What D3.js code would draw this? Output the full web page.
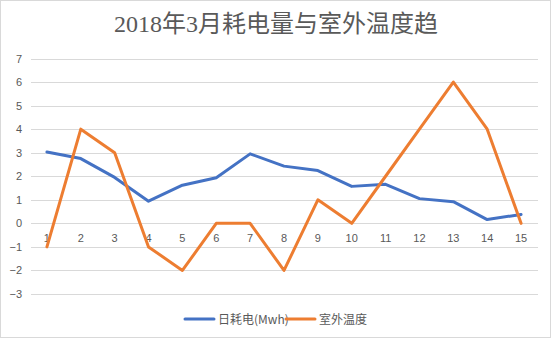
<!DOCTYPE html>
<html><head><meta charset="utf-8">
<script src="https://cdn.jsdelivr.net/npm/d3@7"></script>
<style>html,body{margin:0;padding:0;background:#fff;}</style>
</head><body>
<script>
const categories = [1,2,3,4,5,6,7,8,9,10,11,12,13,14,15];
const power = [3.03,2.75,1.95,0.94,1.62,1.94,2.95,2.43,2.24,1.57,1.66,1.05,0.92,0.16,0.38];
const temp = [-1,4,3,-1,-2,0,0,-2,1,0,2,4,6,4,0];
const yTicks = [-3,-2,-1,0,1,2,3,4,5,6,7];
const seriesNames = ["日耗电(Mwh)","室外温度"];
const colors = ["#4472C4","#ED7D31"];

const W=553,H=339;
const svg=d3.select("body").append("svg").attr("width",W).attr("height",H);
svg.append("rect").attr("x",0.5).attr("y",0.5).attr("width",550).attr("height",337)
  .attr("fill","#fff").attr("stroke","#d9d9d9");

svg.append("text").attr("x",276).attr("y",32).attr("text-anchor","middle")
  .attr("font-family","'Liberation Serif','Noto Sans CJK SC',serif").attr("font-size",24)
  .attr("fill","#595959").text("2018年3月耗电量与室外温度趋");

const x=d3.scaleBand().domain(categories).range([30,538]);
const y=d3.scaleLinear().domain([-3,7]).range([294,58.5]);

const g=svg.append("g");
g.selectAll("line.grid").data(yTicks).join("line").attr("class","grid")
  .attr("x1",31).attr("x2",538).attr("y1",d=>Math.round(y(d))+0.5).attr("y2",d=>Math.round(y(d))+0.5)
  .attr("stroke","#d9d9d9").attr("stroke-width",1);

g.selectAll("text.yl").data(yTicks).join("text").attr("class","yl")
  .attr("x",22).attr("y",d=>y(d)+4).attr("text-anchor","end")
  .attr("font-family","'Liberation Sans','DejaVu Sans',sans-serif").attr("font-size",11)
  .attr("fill","#595959").text(d=>d<0?"−"+Math.abs(d):d);

g.selectAll("text.xl").data(categories).join("text").attr("class","xl")
  .attr("x",d=>x(d)+x.bandwidth()/2).attr("y",y(0)+19).attr("text-anchor","middle")
  .attr("font-family","'Liberation Sans','DejaVu Sans',sans-serif").attr("font-size",11)
  .attr("fill","#595959").text(d=>d);

[power,temp].forEach((s,i)=>{
  const line=d3.line().x((d,j)=>x(categories[j])+x.bandwidth()/2).y(d=>y(d));
  g.append("path").datum(s).attr("d",line).attr("fill","none")
    .attr("stroke",colors[i]).attr("stroke-width",3).attr("stroke-linejoin","round").attr("stroke-linecap","round");
});

const leg=svg.append("g");
const legX=[185,286];
seriesNames.forEach((n,i)=>{
  leg.append("line").attr("x1",legX[i]).attr("x2",legX[i]+29).attr("y1",319).attr("y2",319)
    .attr("stroke",colors[i]).attr("stroke-width",3).attr("stroke-linecap","round");
  leg.append("text").attr("x",legX[i]+33).attr("y",323.5)
    .attr("font-family","'Noto Sans CJK SC',sans-serif").attr("font-size",12)
    .attr("fill","#595959").text(n);
});
</script>
</body></html>
